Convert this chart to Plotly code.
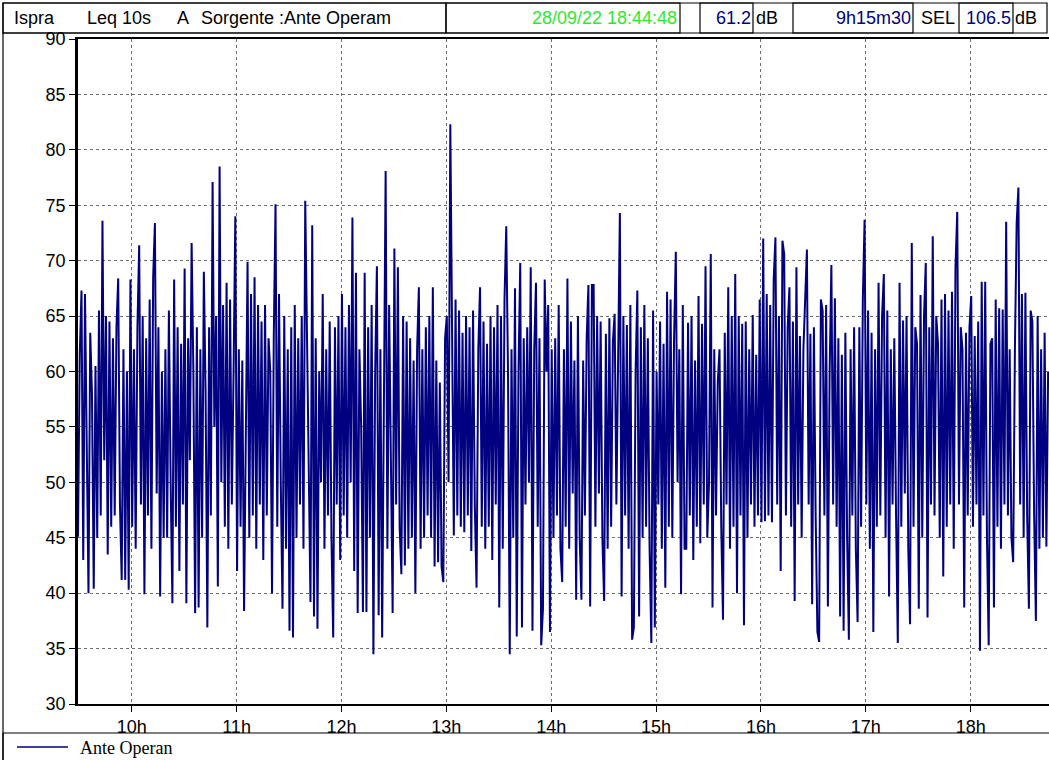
import plotly.graph_objects as go
import pandas as pd

# ---------------- data ----------------
header_title_parts = ["Ispra", "Leq 10s", "A", "Sorgente :Ante Operam"]
end_stamp_text = "28/09/22 18:44:48"
leq_text = "61.2"
duration_text = "9h15m30"
sel_text = "106.5"
series_name = "Ante Operan"

start_time = "2022-09-28 09:29:18"
end_time = "2022-09-28 18:44:48"

# Leq values (dB(A)), one per minute
leq_db = [
    45.1, 61.5, 67.3, 43.0, 67.0, 52.0, 40.0, 63.5, 58.0, 40.4,
    60.5, 45.0, 65.5, 47.0, 73.6, 52.0, 65.0, 43.5, 64.5, 46.0,
    63.0, 47.0, 64.0, 68.4, 48.0, 41.2, 62.0, 41.2, 60.0, 40.3,
    68.3, 46.0, 62.0, 44.0, 64.0, 71.4, 48.0, 65.0, 39.9, 63.0,
    47.0, 66.5, 44.0, 68.5, 73.4, 49.0, 64.0, 39.7, 60.0, 45.0,
    62.0, 45.0, 65.5, 50.0, 39.1, 68.3, 46.0, 64.0, 42.0, 62.5,
    48.0, 69.3, 39.1, 63.0, 52.0, 71.6, 60.0, 38.2, 64.0, 38.7,
    62.0, 45.0, 69.0, 58.0, 36.9, 64.0, 47.0, 77.1, 55.0, 65.0,
    40.6, 78.5, 50.0, 66.0, 46.0, 68.0, 44.0, 66.5, 48.0, 60.0,
    74.0, 42.0, 62.0, 46.0, 61.0, 38.4, 58.0, 69.9, 45.0, 67.0,
    47.0, 68.5, 44.0, 66.0, 48.0, 64.5, 43.0, 66.0, 47.0, 63.0,
    60.0, 40.0, 63.0, 75.1, 46.0, 67.0, 50.0, 38.6, 65.0, 44.0,
    62.0, 36.6, 64.0, 36.0, 66.0, 45.0, 63.0, 48.0, 65.0, 44.0,
    75.4, 64.0, 52.0, 39.2, 73.2, 37.9, 63.0, 36.8, 60.0,
    50.0, 67.0, 44.0, 62.0, 47.0, 64.5, 45.0, 36.0, 64.0, 48.0,
    65.0, 43.0, 67.0, 47.0, 64.0, 45.0, 66.0, 50.0, 73.9, 42.0,
    68.9, 38.2, 62.0, 55.0, 38.3, 68.9, 38.3, 64.0, 45.0, 66.0,
    34.5, 60.0, 69.5, 38.0, 62.0, 36.0, 55.0, 78.1, 44.0, 66.0,
    52.0, 38.2, 71.1, 48.0, 69.4, 46.0, 41.7, 65.0, 42.5, 64.5,
    44.0, 63.0, 45.0, 61.0, 40.0, 62.0, 67.6, 44.0, 62.0, 45.0,
    64.0, 47.0, 65.0, 45.0, 67.6, 42.4, 61.0, 42.8, 59.0, 42.4,
    41.0, 63.0, 65.0, 50.0, 82.3, 60.0, 45.2, 66.5, 47.0, 65.5,
    46.0, 63.5, 45.5, 65.0, 47.0, 64.0, 43.8, 65.5, 48.0, 40.5,
    62.0, 67.6, 46.0, 64.5, 44.0, 62.5, 46.0, 65.0, 43.0, 64.0,
    48.0, 66.0, 38.7, 65.0, 44.0, 66.5, 73.1, 60.0, 34.5,
    62.0, 45.0, 67.5, 36.1, 60.0, 69.8, 36.9, 63.0, 48.0, 64.0,
    50.0, 69.4, 36.6, 62.0, 68.0, 46.0, 63.0, 35.3, 38.6, 68.3,
    60.0, 66.0, 36.5, 62.0, 45.0, 63.0, 47.0, 66.0, 44.0, 41.0,
    62.0, 46.0, 68.4, 44.0, 64.5, 49.0, 61.0, 39.4, 65.0, 45.0,
    39.4, 61.0, 47.0, 63.0, 67.8, 38.8, 67.8, 67.8, 46.0, 65.0,
    49.0, 64.5, 45.0, 39.3, 63.4, 44.0, 64.8, 46.0, 62.7, 65.2,
    48.0, 63.0, 74.3, 39.7, 65.0, 47.0, 64.2, 44.0, 66.0, 35.8,
    36.9, 60.0, 67.3, 37.9, 64.0, 45.0, 66.0, 46.0, 63.0, 44.0,
    35.5, 65.5, 36.9, 60.0, 48.0, 64.5, 44.0, 62.5, 40.5, 67.2,
    46.0, 66.5, 45.0, 63.0, 70.8, 50.0, 62.0, 39.9, 66.0, 44.0,
    44.0, 64.4, 47.0, 65.0, 43.0, 61.0, 46.0, 66.8, 44.5, 64.3,
    48.0, 69.5, 45.0, 50.0, 70.6, 38.7, 62.0, 47.0, 59.0,
    62.0, 46.0, 37.6, 63.5, 48.0, 67.6, 44.0, 65.0, 46.0, 68.8,
    40.0, 65.0, 47.0, 64.3, 37.1, 64.5, 45.0, 62.0, 48.0, 65.1,
    46.0, 61.5, 47.0, 66.5, 46.4, 72.0, 46.5, 67.0, 47.0, 66.0,
    46.4, 68.3, 72.1, 48.0, 65.0, 42.0, 71.8, 70.6, 47.0, 64.0,
    67.6, 46.0, 64.5, 39.3, 69.4, 48.0, 63.2, 45.0, 62.0, 66.3,
    71.0, 48.0, 63.4, 39.0, 64.0, 47.0, 36.5, 35.6, 66.5, 65.5,
    47.0, 66.0, 38.8, 60.0, 69.6, 48.0, 66.6, 46.0, 63.0, 37.9,
    61.5, 36.6, 63.5, 45.0, 35.8, 62.0, 47.0, 64.0, 44.0, 37.4,
    64.0, 46.0, 66.6, 73.7, 48.0, 65.5, 44.0, 63.5, 36.5, 62.0,
    46.0, 68.0, 47.0, 65.0, 68.8, 45.0, 65.5, 39.7, 62.0, 48.0,
    63.0, 47.0, 35.5, 68.0, 46.0, 64.6, 49.0, 65.0, 44.0, 37.2,
    71.6, 46.0, 64.0, 62.5, 38.6, 66.9, 45.0, 65.0, 69.8,
    37.8, 64.0, 48.0, 72.2, 47.0, 65.0, 62.5, 45.0, 66.5, 41.5,
    67.0, 46.0, 65.5, 48.0, 67.2, 44.0, 69.4, 74.4, 48.0, 64.0,
    62.0, 38.7, 63.5, 47.0, 64.0, 66.8, 46.0, 63.2, 48.0, 64.5,
    34.8, 68.1, 47.0, 68.1, 45.0, 35.3, 62.5, 63.0, 38.7, 66.5,
    46.0, 65.7, 44.0, 65.6, 48.0, 73.5, 47.0, 62.0, 45.0, 42.8,
    62.0, 73.4, 76.6, 48.0, 67.0, 45.0, 67.1, 47.0, 38.6, 65.5,
    64.5, 47.0, 37.5, 65.0, 44.0, 62.0, 45.0, 63.5, 44.2, 60.0,
]

times = pd.date_range(start_time, periods=len(leq_db), freq="60s")

hour_tick_values = ["2022-09-28 10:00", "2022-09-28 11:00", "2022-09-28 12:00",
                    "2022-09-28 13:00", "2022-09-28 14:00", "2022-09-28 15:00",
                    "2022-09-28 16:00", "2022-09-28 17:00", "2022-09-28 18:00"]
hour_tick_labels = ["10h", "11h", "12h", "13h", "14h", "15h", "16h", "17h", "18h"]
y_tick_values = [30, 35, 40, 45, 50, 55, 60, 65, 70, 75, 80, 85, 90]

# ---------------- layout helpers ----------------
W, H = 1049, 760
L, R, T, B = 78, 0, 39, 56
PW = W - L - R
PH = H - T - B


def px(x):
    return (x - L) / PW


def py(y):
    return (H - B - y) / PH


NAVY = "#000080"
GREEN = "#2ee82e"
SANS = "Liberation Sans, Arial, sans-serif"
SERIF = "Liberation Serif, Times New Roman, serif"

fig = go.Figure()
fig.add_trace(go.Scatter(
    x=times, y=leq_db, mode="lines", name=series_name,
    line=dict(color=NAVY, width=2.0), showlegend=False, hoverinfo="skip",
))

shapes = []


def rect(x0, y0, x1, y1, width=1.2):
    shapes.append(dict(type="rect", xref="paper", yref="paper",
                       x0=px(x0), x1=px(x1), y0=py(y0), y1=py(y1),
                       line=dict(color="black", width=width), layer="above"))


def line(x0, y0, x1, y1, color="black", width=1.2):
    shapes.append(dict(type="line", xref="paper", yref="paper",
                       x0=px(x0), x1=px(x1), y0=py(y0), y1=py(y1),
                       line=dict(color=color, width=width), layer="above"))


# header boxes
rect(3, 3, 1047, 33)
rect(3, 3, 446, 33)
rect(446, 3, 680, 33)
rect(700, 3, 753, 33)
rect(793, 3, 913, 33)
rect(959, 3, 1013, 33)
# outer left border
line(3, 33, 3, 760)
# legend box
rect(3, 733, 1052, 761)
line(17, 747, 68, 747, color=NAVY, width=1.5)

annotations = []


def text(s, x, y, anchor="left", color="black", size=18, family=SANS):
    annotations.append(dict(text=s, xref="paper", yref="paper", x=px(x), y=py(y),
                            xanchor=anchor, yanchor="middle", showarrow=False,
                            font=dict(family=family, size=size, color=color)))


text(header_title_parts[0], 12, 18)
text(header_title_parts[1], 85, 18)
text(header_title_parts[2], 175, 18)
text(header_title_parts[3], 199, 18)
text(end_stamp_text, 679, 18, anchor="right", color=GREEN)
text(leq_text, 753, 18, anchor="right", color=NAVY)
text("dB", 754, 18)
text(duration_text, 913, 18, anchor="right", color=NAVY)
text("SEL", 919, 18)
text(sel_text, 1013, 18, anchor="right", color=NAVY)
text("dB", 1013, 18)
text(series_name, 78, 748, size=18, family=SERIF)

fig.update_layout(
    width=W, height=H,
    margin=dict(l=L, r=R, t=T, b=B, pad=0),
    paper_bgcolor="white", plot_bgcolor="white",
    shapes=shapes, annotations=annotations,
    showlegend=False, hovermode=False,
    xaxis=dict(
        type="date", range=[start_time, end_time],
        tickmode="array", tickvals=hour_tick_values, ticktext=hour_tick_labels,
        ticks="outside", ticklen=6, tickcolor="black", tickwidth=1,
        showgrid=True, gridcolor="#6e6e6e", griddash="dot", gridwidth=1,
        showline=True, linecolor="black", linewidth=1.5, mirror=True,
        tickfont=dict(family=SANS, size=18, color="black"),
        zeroline=False, automargin=False,
    ),
    yaxis=dict(
        range=[30, 90],
        tickmode="array", tickvals=y_tick_values,
        ticks="outside", ticklen=6, tickcolor="black", tickwidth=1,
        showgrid=True, gridcolor="#6e6e6e", griddash="dot", gridwidth=1,
        showline=True, linecolor="black", linewidth=2.5, mirror=False,
        tickfont=dict(family=SANS, size=18, color="black"),
        zeroline=False, automargin=False,
    ),
)

fig.write_html(
    "out.html",
    config={"displayModeBar": False},
    post_script="document.body.style.margin='0';document.body.style.overflow='hidden';",
)
